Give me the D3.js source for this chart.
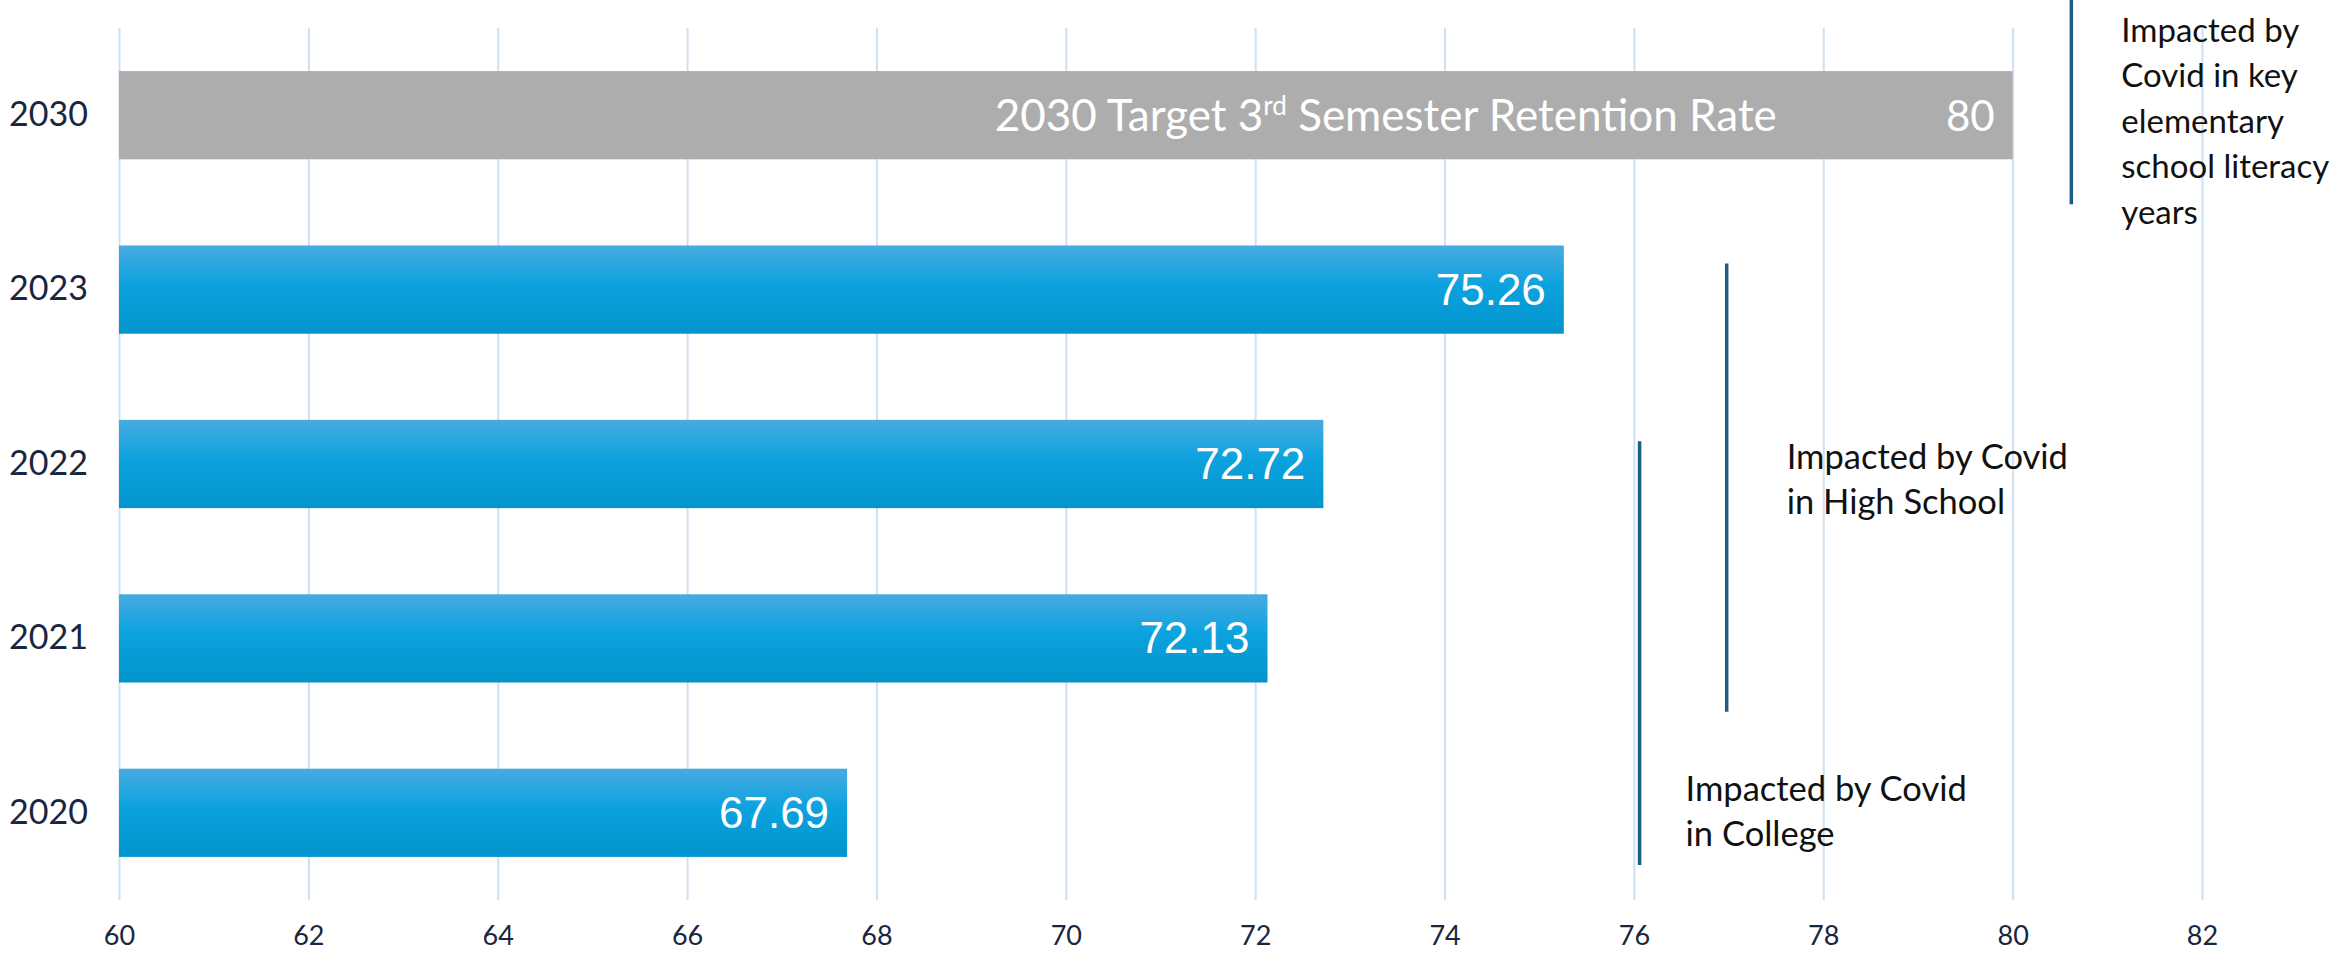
<!DOCTYPE html>
<html>
<head>
<meta charset="utf-8">
<script src="https://cdn.jsdelivr.net/npm/d3@7"></script>
<style>
  body { margin: 0; background: #fff; }
  svg { display: block; }
</style>
</head>
<body>
<div id="chart"></div>
<script>
// data
const years = ["2030", "2023", "2022", "2021", "2020"];
const rates = [80, 75.26, 72.72, 72.13, 67.69];
const rateLabels = ["80", "75.26", "72.72", "72.13", "67.69"];
const xTicks = [60, 62, 64, 66, 68, 70, 72, 74, 76, 78, 80, 82];
const targetTitle = ["2030 Target 3", "rd", " Semester Retention Rate"];

// covid annotations: x in data units, vertical span in rows (0 = 2030 ... 4 = 2020)
const noteX = [76.06, 76.98, 80.62];
const noteFrom = [1.87, 0.85, -0.66];
const noteTo = [4.3, 3.42, 0.51];
const noteTextRow = [3.93, 2.03, -0.42];
const noteLines = [
  ["Impacted by Covid", "in College"],
  ["Impacted by Covid", "in High School"],
  ["Impacted by", "Covid in key", "elementary", "school literacy", "years"]
];

const width = 2333, height = 955;
const plotTop = 28, plotBottom = 900;
const futura = "Lato, 'Noto Sans', sans-serif";

const svg = d3.select("#chart").append("svg")
    .attr("width", width)
    .attr("height", height);

const x = d3.scaleLinear()
    .domain([60, 82])
    .range([119, 2202]);

const y = d3.scaleBand()
    .domain(years)
    .range([plotTop, plotBottom])
    .paddingInner(0.494)
    .paddingOuter(0.247);

// row index -> pixel centre, used for the annotation brackets
const yRow = d3.scaleLinear()
    .domain([0, years.length - 1])
    .range([y(years[0]) + y.bandwidth() / 2, y(years[years.length - 1]) + y.bandwidth() / 2]);

// gradient for the blue bars
const grad = svg.append("defs").append("linearGradient")
    .attr("id", "blueBar")
    .attr("x1", 0).attr("y1", 0).attr("x2", 0).attr("y2", 1);
grad.append("stop").attr("offset", "0%").attr("stop-color", "#48abe1");
grad.append("stop").attr("offset", "45%").attr("stop-color", "#0ba2de");
grad.append("stop").attr("offset", "100%").attr("stop-color", "#0394cd");

// x axis: gridlines + tick labels
const xAxis = d3.axisBottom(x)
    .tickValues(xTicks)
    .tickSize(-(plotBottom - plotTop))
    .tickPadding(26)
    .tickFormat(d3.format("d"));
const xAxisG = svg.append("g")
    .attr("transform", "translate(0," + plotBottom + ")")
    .call(xAxis);
xAxisG.select(".domain").remove();
xAxisG.selectAll(".tick line")
    .attr("stroke", "#cfe0f3")
    .attr("stroke-width", 2);
xAxisG.selectAll(".tick text")
    .attr("fill", "#18263f")
    .style("font-family", futura)
    .style("font-size", "27px");

// y axis: year labels
const yAxisG = svg.append("g")
    .attr("transform", "translate(88,0)")
    .call(d3.axisLeft(y).tickSize(0).tickPadding(0));
yAxisG.select(".domain").remove();
yAxisG.selectAll(".tick text")
    .attr("fill", "#18263f")
    .style("font-family", futura)
    .style("font-size", "34px");

const rows = years.map((yr, i) => ({year: yr, value: rates[i], label: rateLabels[i], target: i === 0}));

// bars
svg.append("g").selectAll("rect")
  .data(rows)
  .join("rect")
    .attr("x", x(60))
    .attr("y", d => y(d.year))
    .attr("width", d => x(d.value) - x(60))
    .attr("height", y.bandwidth())
    .attr("fill", d => d.target ? "#adadad" : "url(#blueBar)");

// value labels inside the bar ends
svg.append("g").selectAll("text")
  .data(rows)
  .join("text")
    .attr("x", d => x(d.value) - 18)
    .attr("y", d => y(d.year) + y.bandwidth() / 2 + (d.target ? 16 : 15))
    .attr("text-anchor", "end")
    .attr("fill", "#fff")
    .style("font-family", d => d.target ? futura : "'Liberation Sans', Arial, sans-serif")
    .style("font-size", d => d.target ? "42px" : "44px")
    .text(d => d.label);

// target title on the grey bar
const title = svg.append("text")
    .attr("x", x(69.25))
    .attr("y", y(years[0]) + y.bandwidth() / 2 + 16)
    .attr("fill", "#fff")
    .style("font-family", futura)
    .style("font-size", "44px");
title.append("tspan").text(targetTitle[0]);
title.append("tspan")
    .attr("baseline-shift", "super")
    .style("font-size", "26px")
    .text(targetTitle[1]);
title.append("tspan").text(targetTitle[2]);

// annotation brackets
const noteG = svg.append("g");
noteX.forEach((v, i) => {
  noteG.append("line")
      .attr("x1", x(v)).attr("x2", x(v))
      .attr("y1", yRow(noteFrom[i]))
      .attr("y2", yRow(noteTo[i]))
      .attr("stroke", "#1b5f85")
      .attr("stroke-width", 3.5);

  const elem = i === 2;
  const tx = x(v) + (elem ? 50 : (i === 0 ? 46 : 60));
  const t = noteG.append("text")
      .attr("x", tx)
      .attr("y", yRow(noteTextRow[i]))
      .attr("fill", "#111")
      .style("font-family", elem ? futura : "Lato, 'Open Sans', sans-serif")
      .style("font-size", elem ? "33px" : "34.5px");
  noteLines[i].forEach((line, j) => {
    t.append("tspan")
        .attr("x", tx)
        .attr("dy", j === 0 ? 0 : (elem ? 45.5 : 45))
        .text(line);
  });
});
</script>
</body>
</html>
